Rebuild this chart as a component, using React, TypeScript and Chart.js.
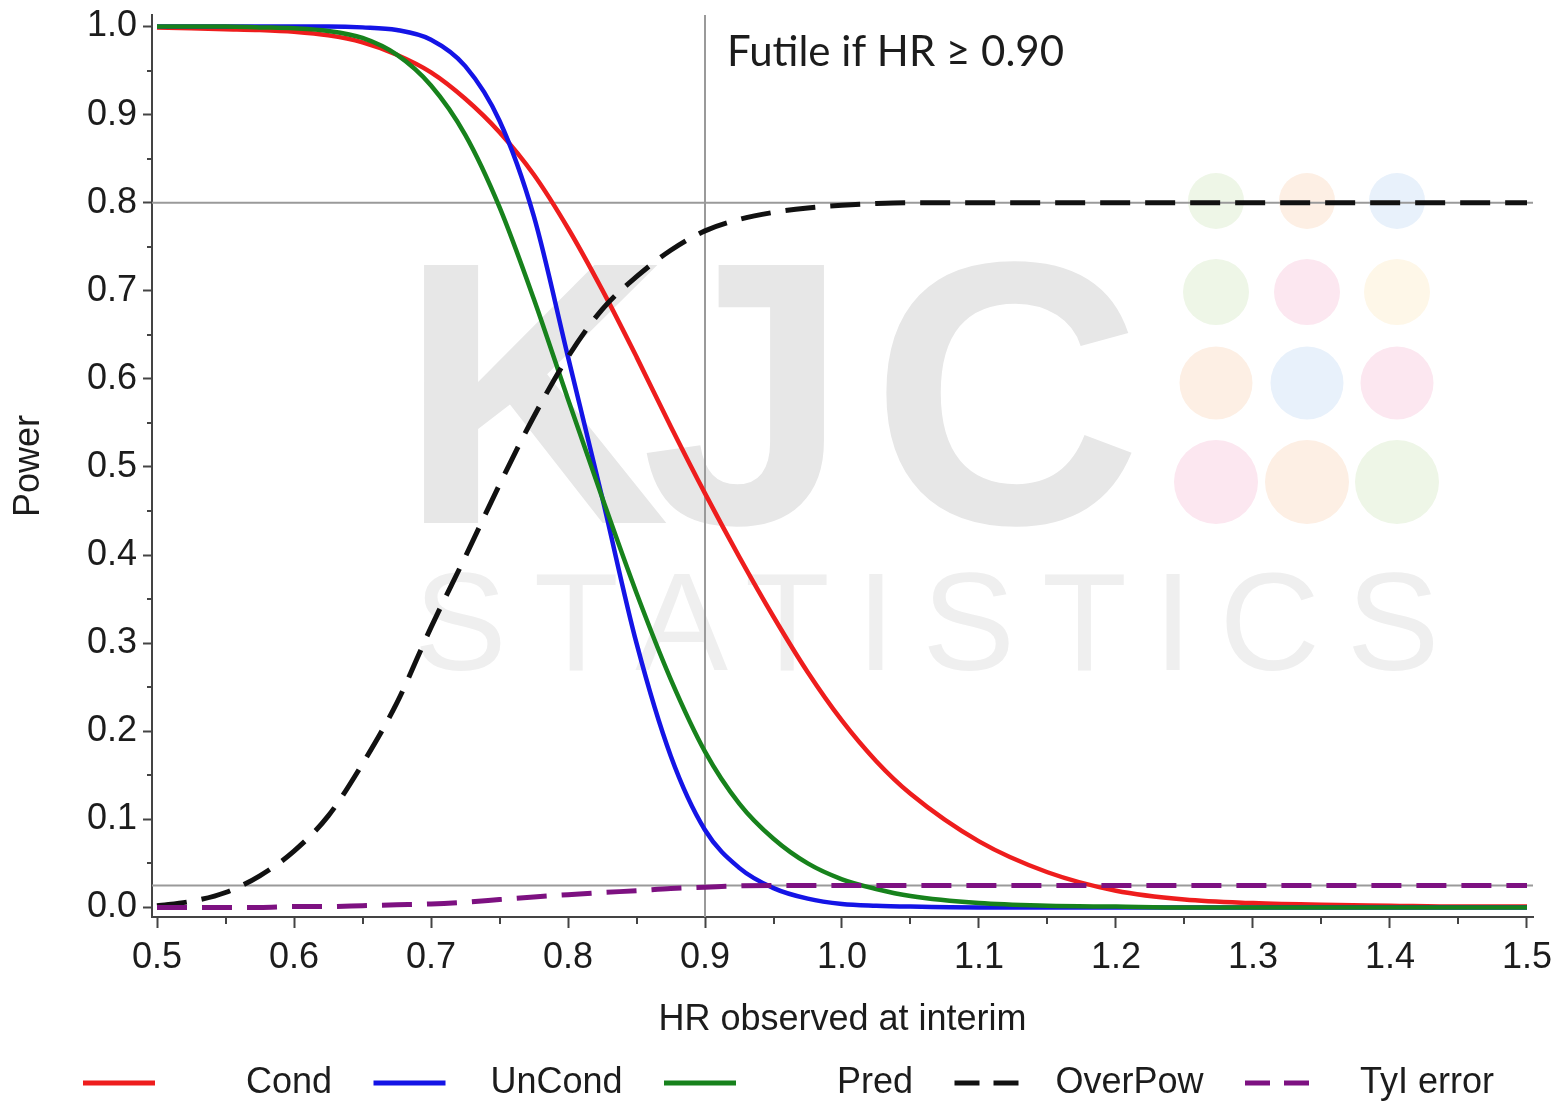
import React, { useEffect, useRef } from "react";
import { Chart, registerables } from "chart.js";

Chart.register(...registerables);

// ---------------- data ----------------
const hrValues = [
  0.5, 0.525, 0.55, 0.575, 0.6, 0.625, 0.65, 0.675, 0.7, 0.725, 0.75, 0.775,
  0.8, 0.825, 0.85, 0.875, 0.9, 0.925, 0.95, 0.975, 1.0, 1.025, 1.05, 1.1,
  1.15, 1.2, 1.25, 1.3, 1.35, 1.4, 1.45, 1.5,
];

const condPower = [
  0.999, 0.998, 0.997, 0.996, 0.994, 0.99, 0.982, 0.968, 0.948, 0.918, 0.88,
  0.832, 0.771, 0.701, 0.625, 0.546, 0.47, 0.398, 0.33, 0.267, 0.212, 0.166,
  0.129, 0.075, 0.04, 0.019, 0.009, 0.005, 0.003, 0.002, 0.001, 0.001,
];

const uncondPower = [
  1.0, 1.0, 1.0, 1.0, 1.0, 1.0, 0.999, 0.996, 0.985, 0.955, 0.893, 0.785,
  0.625, 0.465, 0.3, 0.172, 0.088, 0.045, 0.022, 0.01, 0.004, 0.002, 0.001,
  0.0, 0.0, 0.0, 0.0, 0.0, 0.0, 0.0, 0.0, 0.0,
];

const predPower = [
  1.0, 1.0, 1.0, 0.999, 0.998, 0.995, 0.987, 0.968, 0.933, 0.877, 0.795,
  0.691, 0.577, 0.465, 0.357, 0.259, 0.177, 0.118, 0.078, 0.05, 0.032, 0.021,
  0.013, 0.005, 0.002, 0.001, 0.0, 0.0, 0.0, 0.0, 0.0, 0.0,
];

const overallPower = [
  0.002, 0.007, 0.017, 0.036, 0.064, 0.104, 0.163, 0.232, 0.318, 0.398, 0.48,
  0.557, 0.625, 0.679, 0.716, 0.746, 0.768, 0.781, 0.789, 0.794, 0.797, 0.799,
  0.8, 0.8, 0.8, 0.8, 0.8, 0.8, 0.8, 0.8, 0.8, 0.8,
];

const typeIError = [
  0.0, 0.0, 0.0, 0.0, 0.001, 0.001, 0.002, 0.003, 0.004, 0.006, 0.009, 0.012,
  0.0145, 0.017, 0.019, 0.0215, 0.023, 0.0245, 0.025, 0.025, 0.025, 0.025,
  0.025, 0.025, 0.025, 0.025, 0.025, 0.025, 0.025, 0.025, 0.025, 0.025,
];

const seriesLabels = ["Cond", "UnCond", "Pred", "OverPow", "TyI error"];

const xTickValues = [0.5, 0.6, 0.7, 0.8, 0.9, 1.0, 1.1, 1.2, 1.3, 1.4, 1.5];
const yTickValues = [0.0, 0.1, 0.2, 0.3, 0.4, 0.5, 0.6, 0.7, 0.8, 0.9, 1.0];
const xMinorTicks = [0.55, 0.65, 0.75, 0.85, 0.95, 1.05, 1.15, 1.25, 1.35, 1.45];
const yMinorTicks = [0.05, 0.15, 0.25, 0.35, 0.45, 0.55, 0.65, 0.75, 0.85, 0.95];

const targetPower = 0.8;
const alphaLevel = 0.025;
const futilityHR = 0.9;
const futilityText = "Futile if HR \u2265 0.90";

const xAxisTitle = "HR observed at interim";
const yAxisTitle = "Power";

// axis extents (axis lines sit slightly outside the data range)
const X_MIN = 0.49635;
const X_MAX = 1.50438;
const Y_MIN = -0.0108;
const Y_MAX = 1.01305;

// ---------------- styles ----------------
const FONT = '"Liberation Sans", Arial, Helvetica, sans-serif';
const TEXT = "#1c1c1c";
const AXIS = "#444444";
const REF = "#9a9a9a";

const colors = ["#ee1d1d", "#1414e6", "#17821c", "#111111", "#7d1181"];

const toPoints = (ys: number[]) => hrValues.map((x, i) => ({ x, y: ys[i] }));

const decorPlugin = {
  id: "decor",
  beforeDatasetsDraw(chart: any) {
    const { ctx, chartArea: a, scales } = chart;
    const xs = scales.x;
    const ys = scales.y;
    ctx.save();
    // watermark
    ctx.textAlign = "left";
    ctx.textBaseline = "alphabetic";
    ctx.fillStyle = "#e7e7e7";
    ctx.font = `bold 375px ${FONT}`;
    ctx.fillText("K", a.left + 247, a.top + 508);
    ctx.fillText("J", a.left + 489, a.top + 508);
    ctx.fillText("C", a.left + 719, a.top + 508);
    ctx.fillStyle = "#efefef";
    ctx.font = `139px ${FONT}`;
    try {
      (ctx as any).letterSpacing = "27px";
    } catch (e) {}
    ctx.fillText("STATISTICS", a.left + 262, a.top + 655);
    try {
      (ctx as any).letterSpacing = "0px";
    } catch (e) {}
    const cGreen = "#eef6e7";
    const cPeach = "#fdefe4";
    const cBlue = "#e8f1fb";
    const cPink = "#fce7f0";
    const cYellow = "#fef7e8";
    const cols = [1064, 1155, 1245];
    const rows = [
      { dy: 186, r: 28, c: [cGreen, cPeach, cBlue] },
      { dy: 277, r: 33, c: [cGreen, cPink, cYellow] },
      { dy: 368, r: 36.5, c: [cPeach, cBlue, cPink] },
      { dy: 467, r: 42, c: [cPink, cPeach, cGreen] },
    ];
    rows.forEach((row) => {
      row.c.forEach((col, j) => {
        ctx.beginPath();
        ctx.fillStyle = col;
        ctx.arc(a.left + cols[j], a.top + row.dy, row.r, 0, Math.PI * 2);
        ctx.fill();
      });
    });
    // reference lines
    ctx.strokeStyle = REF;
    ctx.lineWidth = 2;
    ctx.setLineDash([]);
    const yp = ys.getPixelForValue(targetPower);
    const ya = ys.getPixelForValue(alphaLevel);
    const xf = xs.getPixelForValue(futilityHR);
    ctx.beginPath();
    ctx.moveTo(a.left, yp);
    ctx.lineTo(a.right, yp);
    ctx.moveTo(a.left, ya);
    ctx.lineTo(a.right, ya);
    ctx.moveTo(xf, a.top);
    ctx.lineTo(xf, a.bottom);
    ctx.stroke();
    ctx.restore();
  },
  afterDraw(chart: any) {
    const { ctx, chartArea: a, scales } = chart;
    const xs = scales.x;
    const ys = scales.y;
    ctx.save();
    // minor ticks
    ctx.strokeStyle = AXIS;
    ctx.lineWidth = 2;
    ctx.beginPath();
    xMinorTicks.forEach((v) => {
      const px = Math.round(xs.getPixelForValue(v));
      ctx.moveTo(px, a.bottom);
      ctx.lineTo(px, a.bottom + 7);
    });
    yMinorTicks.forEach((v) => {
      const py = Math.round(ys.getPixelForValue(v));
      ctx.moveTo(a.left - 5, py);
      ctx.lineTo(a.left, py);
    });
    ctx.stroke();

    // futility annotation
    ctx.fillStyle = TEXT;
    ctx.font = `42px Lato, "Open Sans", sans-serif`;
    ctx.textAlign = "left";
    ctx.textBaseline = "alphabetic";
    ctx.fillText(futilityText, xs.getPixelForValue(futilityHR) + 22, a.top + 51);

    // legend
    const ds = chart.data.datasets;
    const left = 83;
    const cell = 290.5;
    const ly = 1083;
    ctx.font = `36px ${FONT}`;
    ctx.textBaseline = "middle";
    ctx.textAlign = "right";
    ds.forEach((d: any, i: number) => {
      const x0 = left + i * cell;
      const dashed = d.borderDash && d.borderDash.length;
      ctx.strokeStyle = d.borderColor;
      ctx.lineWidth = 5;
      ctx.lineCap = "butt";
      ctx.setLineDash(dashed ? [25, 14] : []);
      ctx.beginPath();
      ctx.moveTo(x0, ly);
      ctx.lineTo(x0 + (dashed ? 64 : 72), ly);
      ctx.stroke();
      ctx.setLineDash([]);
      ctx.fillStyle = TEXT;
      ctx.fillText(d.label, x0 + 249, ly);
    });
    ctx.restore();
  },
};

export default function App() {
  const canvasRef = useRef<HTMLCanvasElement | null>(null);

  useEffect(() => {
    if (!canvasRef.current) return;
    const series = [condPower, uncondPower, predPower, overallPower, typeIError];
    const datasets = series.map((ys, i) => ({
      label: seriesLabels[i],
      data: toPoints(ys),
      borderColor: colors[i],
      backgroundColor: colors[i],
      borderWidth: i >= 3 ? 5 : 4.5,
      borderDash: i >= 3 ? [30, 15] : [],
      pointRadius: 0,
      fill: false,
      cubicInterpolationMode: "monotone" as const,
      order: 5 - i,
    }));

    const chart = new Chart(canvasRef.current, {
      type: "line",
      data: { datasets },
      plugins: [decorPlugin],
      options: {
        responsive: false,
        maintainAspectRatio: false,
        animation: false,
        devicePixelRatio: 1,
        layout: { padding: { top: 15, right: 27, left: 0, bottom: 0 } },
        plugins: {
          legend: { display: false },
          tooltip: { enabled: false },
        },
        scales: {
          x: {
            type: "linear",
            min: X_MIN,
            max: X_MAX,
            afterBuildTicks: (s: any) => {
              s.ticks = xTickValues.map((v) => ({ value: v }));
            },
            afterFit: (s: any) => {
              s.height = 188;
              s.paddingLeft = 0;
              s.paddingRight = 0;
            },
            ticks: {
              callback: (v: any) => Number(v).toFixed(1),
              font: { family: FONT, size: 36 },
              color: TEXT,
              padding: 8,
              maxRotation: 0,
              autoSkip: false,
            },
            grid: {
              drawOnChartArea: false,
              drawTicks: true,
              tickLength: 11,
              tickWidth: 2,
              tickColor: AXIS,
            },
            border: { display: true, color: AXIS, width: 2 },
            title: {
              display: true,
              text: xAxisTitle,
              font: { family: FONT, size: 36 },
              color: TEXT,
              padding: { top: 0, bottom: 63 },
            },
          },
          y: {
            type: "linear",
            min: Y_MIN,
            max: Y_MAX,
            afterBuildTicks: (s: any) => {
              s.ticks = yTickValues.map((v) => ({ value: v }));
            },
            afterFit: (s: any) => {
              s.width = 152;
              s.paddingTop = 0;
              s.paddingBottom = 0;
            },
            ticks: {
              callback: (v: any) => Number(v).toFixed(1),
              font: { family: FONT, size: 36 },
              color: TEXT,
              padding: 6,
              autoSkip: false,
            },
            grid: {
              drawOnChartArea: false,
              drawTicks: true,
              tickLength: 9,
              tickWidth: 2,
              tickColor: AXIS,
            },
            border: { display: true, color: AXIS, width: 2 },
            title: {
              display: true,
              text: yAxisTitle,
              font: { family: FONT, size: 36 },
              color: TEXT,
              padding: { top: 7, bottom: 0 },
            },
          },
        },
      } as any,
    });
    return () => chart.destroy();
  }, []);

  return (
    <div
      style={{
        position: "absolute",
        left: 0,
        top: 0,
        width: 1560,
        height: 1105,
        background: "#ffffff",
      }}
    >
      <canvas ref={canvasRef} width={1560} height={1105} style={{ display: "block" }} />
    </div>
  );
}
